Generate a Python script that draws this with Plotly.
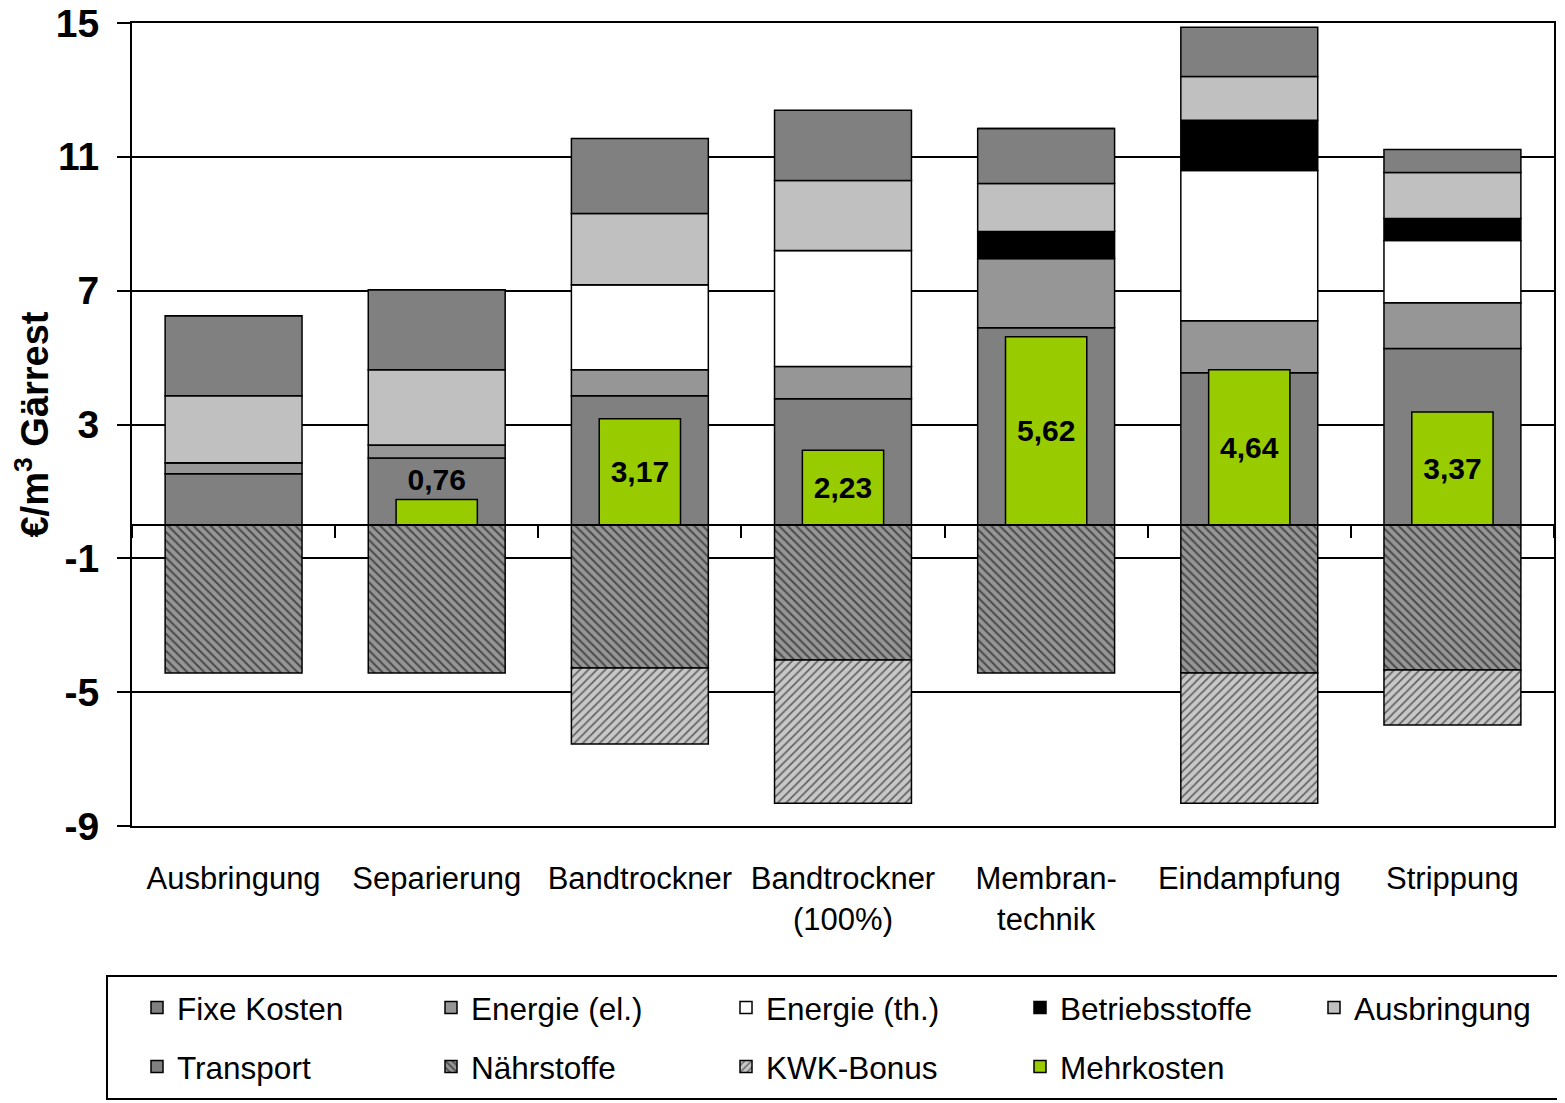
import plotly.graph_objects as go

categories = ["Ausbringung", "Separierung", "Bandtrockner", "Bandtrockner<br>(100%)",
              "Membran-<br>technik", "Eindampfung", "Strippung"]

fixe_kosten    = [1.53, 2.00, 3.86, 3.77, 5.89, 4.55, 5.27]
energie_el     = [0.33, 0.39, 0.78, 0.96, 2.07, 1.55, 1.37]
energie_th     = [0.00, 0.00, 2.54, 3.47, 0.00, 4.49, 1.86]
betriebsstoffe = [0.00, 0.00, 0.00, 0.00, 0.81, 1.50, 0.66]
ausbringung    = [2.00, 2.25, 2.13, 2.09, 1.43, 1.31, 1.37]
transport      = [2.39, 2.39, 2.24, 2.10, 1.65, 1.47, 0.69]
naehrstoffe    = [-4.43, -4.43, -4.28, -4.04, -4.43, -4.43, -4.34]
kwk_bonus      = [0.00, 0.00, -2.27, -4.28, 0.00, -3.89, -1.64]
mehrkosten     = [None, 0.76, 3.17, 2.23, 5.62, 4.64, 3.37]

y_ticks = [-9, -5, -1, 3, 7, 11, 15]
y_tick_text = ["-9", "-5", "-1", "3", "7", "11", "15"]

FONT = "Liberation Sans"

# figure geometry (page body adds an 8px offset)
W, H = 1557, 1095
ML, MR, MT, MB = 124, 11, 15, 277
PW, PH = W - ML - MR, H - MT - MB


def px_x(p):
    return (p - ML) / PW


def px_y(p):
    return (H - MB - p) / PH


fig = go.Figure()

line = dict(color="black", width=1.5)
BW = 0.674
solid = [
    ("Fixe Kosten", fixe_kosten, "#808080", "legend"),
    ("Energie (el.)", energie_el, "#969696", "legend2"),
    ("Energie (th.)", energie_th, "#FFFFFF", "legend3"),
    ("Betriebsstoffe", betriebsstoffe, "#000000", "legend4"),
    ("Ausbringung", ausbringung, "#C0C0C0", "legend5"),
    ("Transport", transport, "#808080", "legend"),
]
for name, vals, col, lg in solid:
    fig.add_trace(go.Bar(x=categories, y=vals, name=name, width=BW, legend=lg,
                         legendgroup=name,
                         marker=dict(color=col, line=line)))

fig.add_trace(go.Bar(x=categories, y=naehrstoffe, name="Nährstoffe", width=BW,
                     legend="legend2", legendgroup="Nährstoffe",
                     marker=dict(color="#969696", line=line,
                                 pattern=dict(shape="\\", fgcolor="black", bgcolor="#969696",
                                              size=6, solidity=0.35))))
fig.add_trace(go.Bar(x=categories, y=kwk_bonus, name="KWK-Bonus", width=BW,
                     legend="legend3", legendgroup="KWK-Bonus",
                     marker=dict(color="#C8C8C8", line=line,
                                 pattern=dict(shape="/", fgcolor="black", bgcolor="#C8C8C8",
                                              size=6, solidity=0.3))))

texts = ["" if v is None else f"{v:.2f}".replace(".", ",") for v in mehrkosten]
positions = ["inside" if (v is not None and v > 1.5) else "outside" for v in mehrkosten]
fig.add_trace(go.Bar(x=categories, y=mehrkosten, name="Mehrkosten", width=0.40,
                     xaxis="x2", legend="legend4", legendgroup="Mehrkosten",
                     text=texts, textposition=positions,
                     insidetextanchor="middle", textangle=0, cliponaxis=False,
                     textfont=dict(family=FONT, size=30, color="black", weight="bold"),
                     marker=dict(color="#99CC00", line=line)))

legend_common = dict(orientation="v", xanchor="left", yanchor="top",
                     bgcolor="rgba(0,0,0,0)", borderwidth=0,
                     font=dict(family=FONT, size=31.5, color="black"),
                     traceorder="grouped", tracegroupgap=15, itemclick=False)

text_starts = [177, 471, 766, 1060, 1354]
legend_x = [px_x(t - 8 - 40) for t in text_starts]
legend_top = px_y(972.5)

fig.update_layout(
    width=W, height=H,
    barmode="relative",
    plot_bgcolor="white", paper_bgcolor="white",
    margin=dict(l=ML, r=MR, t=MT, b=MB, autoexpand=False),
    font=dict(family=FONT, size=30, color="black"),
    xaxis=dict(categoryorder="array", categoryarray=categories, range=[-0.5, 6.5],
               showline=True, linecolor="black", linewidth=2, mirror=True,
               ticks="", tickfont=dict(family=FONT, size=31), ticklabelstandoff=24,
               automargin=False),
    xaxis2=dict(overlaying="x", categoryorder="array", categoryarray=categories,
                range=[-0.5, 6.5], anchor="free", position=0.375,
                showticklabels=False, ticks="outside", tickson="boundaries",
                ticklen=12, tickcolor="black", tickwidth=2, showline=True,
                linecolor="black", linewidth=2, showgrid=False, automargin=False),
    yaxis=dict(range=[-9, 15], tickvals=y_ticks, ticktext=y_tick_text,
               showgrid=True, gridcolor="black",
               gridwidth=2, zeroline=False, showline=True, linecolor="black", linewidth=2,
               mirror=True, ticks="outside", ticklen=13, tickwidth=2, tickcolor="black",
               ticklabelstandoff=10, ticklabeloverflow="allow",
               tickfont=dict(family=FONT, size=39, weight="bold"), automargin=False,
               title=dict(text="€/m<sup>3</sup> Gärrest",
                          font=dict(family=FONT, size=38, weight="bold"),
                          standoff=6)),
    showlegend=True,
    legend=dict(x=legend_x[0], y=legend_top, **legend_common),
    legend2=dict(x=legend_x[1], y=legend_top, **legend_common),
    legend3=dict(x=legend_x[2], y=legend_top, **legend_common),
    legend4=dict(x=legend_x[3], y=legend_top, **legend_common),
    legend5=dict(x=legend_x[4], y=legend_top, **legend_common),
    shapes=[dict(type="rect", xref="paper", yref="paper",
                 x0=px_x(107 - 8), x1=px_x(1620), y0=px_y(1099 - 8), y1=px_y(976 - 8),
                 line=dict(color="black", width=2), fillcolor="rgba(0,0,0,0)")],
)

fig.write_html("out.html")
